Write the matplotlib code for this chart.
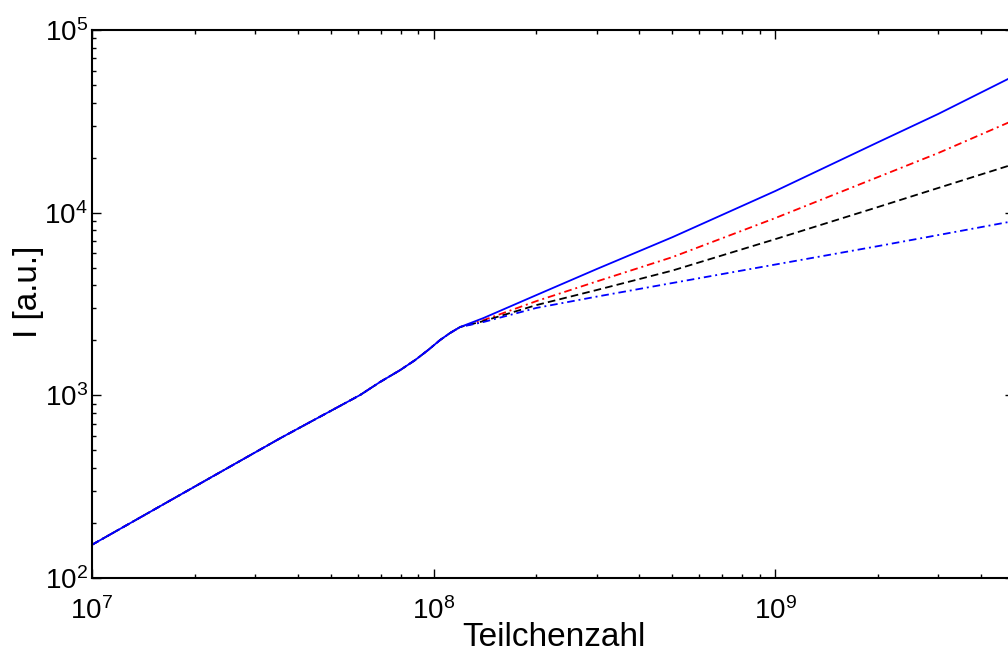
import numpy as np
import matplotlib
matplotlib.use("Agg")
import matplotlib.pyplot as plt
from matplotlib.ticker import LogLocator, NullFormatter

plt.rcParams['font.family'] = ['Liberation Sans', 'DejaVu Sans']
plt.rcParams['mathtext.fontset'] = 'custom'
plt.rcParams['mathtext.rm'] = 'Liberation Sans'
plt.rcParams['mathtext.it'] = 'Liberation Sans'
plt.rcParams['lines.scale_dashes'] = False

# common part (all curves coincide)
x_common = [1e7, 1.81e7, 3.56e7, 6.1e7, 6.97e7, 7.98e7, 8.83e7, 9.64e7,
            1.045e8, 1.117e8, 1.196e8]
y_common = [152, 285, 583, 1005, 1183, 1374, 1560, 1771,
            2009, 2193, 2366]

# branches after ~1.2e8
x_branch = [1.4e8, 2e8, 3e8, 5e8, 1e9, 2e9, 3e9, 5e9]
y_solid_blue = [2650, 3540, 4910, 7340, 13130, 24300, 34700, 56000]
y_red = [2580, 3280, 4200, 5710, 9340, 15670, 21200, 32100]
y_black = [2550, 3120, 3770, 4820, 7160, 10740, 13650, 18450]
y_blue_dd = [2520, 3010, 3470, 4120, 5200, 6560, 7540, 9000]

x_all = x_common + x_branch

fig = plt.figure(figsize=(10.08, 6.53), dpi=100)
ax = fig.add_axes([92/1008, 1 - 578/653, (1014 - 92)/1008, 548/653])

ax.plot(x_all, y_common + y_red, color='red', lw=1.3, dashes=(5.5, 2.8, 1.4, 2.8))
ax.plot(x_all, y_common + y_black, color='black', lw=1.3, dashes=(5.5, 3.0))
ax.plot(x_all, y_common + y_blue_dd, color='blue', lw=1.3, dashes=(5.5, 2.8, 1.4, 2.8))
ax.plot(x_all, y_common + y_solid_blue, color='blue', lw=1.3)

ax.set_xscale('log')
ax.set_yscale('log')
ax.set_xlim(1e7, 5e9)
ax.set_ylim(1e2, 1e5)

ax.xaxis.set_major_locator(LogLocator(base=10, numticks=10))
ax.yaxis.set_major_locator(LogLocator(base=10, numticks=10))
ax.xaxis.set_minor_locator(LogLocator(base=10, subs=np.arange(2, 10), numticks=20))
ax.yaxis.set_minor_locator(LogLocator(base=10, subs=np.arange(2, 10), numticks=20))
ax.xaxis.set_minor_formatter(NullFormatter())
ax.yaxis.set_minor_formatter(NullFormatter())

ax.tick_params(which='both', direction='in', top=True, right=True, width=1.0)
ax.tick_params(which='major', length=6.5, labelsize=20)
ax.tick_params(which='minor', length=3)
ax.tick_params(axis='x', which='major', pad=14)
ax.tick_params(axis='y', which='major', pad=3)

for s in ax.spines.values():
    s.set_linewidth(1.5)

ax.set_xlabel('Teilchenzahl', fontsize=24)
ax.xaxis.set_label_coords(0.501, -0.080)
ax.set_ylabel('I [a.u.]', fontsize=24)
ax.yaxis.set_label_coords(-0.052, 0.522)

fig.savefig('out.png', dpi=100)
